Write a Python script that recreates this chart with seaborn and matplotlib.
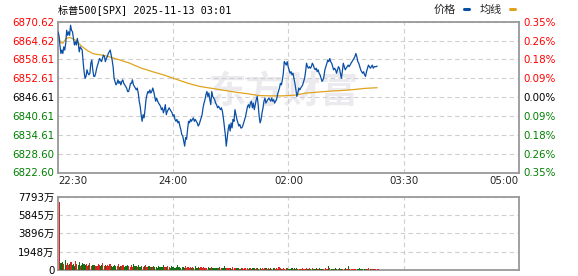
import numpy as np
import pandas as pd
import matplotlib
matplotlib.use("Agg")
import matplotlib.pyplot as plt
import seaborn as sns
from matplotlib.lines import Line2D
from matplotlib.transforms import ScaledTranslation

# ---------------- data ----------------
title = "标普500[SPX] 2025-11-13 03:01"
prev_close = 6846.61
y_low, y_high = 6822.60, 6870.62
price_tick_labels = ["6870.62", "6864.62", "6858.61", "6852.61", "6846.61",
                     "6840.61", "6834.61", "6828.60", "6822.60"]
pct_tick_labels = ["0.35%", "0.26%", "0.18%", "0.09%", "0.00%",
                   "0.09%", "0.18%", "0.26%", "0.35%"]
time_labels = ["22:30", "24:00", "02:00", "03:30", "05:00"]
session_minutes = 390
last_minute = 270

price = [
    # 22:30 - ~23:37
    6867.4, 6866.3, 6863.2, 6860.5, 6861.6, 6860.5, 6862.6, 6861.6, 6863.7, 6867.9,
    6866.3, 6867.4, 6866.3, 6869.5, 6867.9, 6867.4, 6865.3, 6863.2, 6864.2, 6863.2,
    6865.3, 6863.7, 6861.0, 6862.6, 6862.1, 6861.6, 6857.9, 6854.7, 6852.6, 6853.2,
    6855.3, 6854.2, 6853.7, 6854.2, 6857.4, 6858.4, 6855.3, 6853.2, 6853.2, 6854.2,
    6855.8, 6856.8, 6857.9, 6858.9, 6858.4, 6857.9, 6858.9, 6860.0, 6859.5, 6857.9,
    6858.9, 6859.5, 6860.5, 6861.0, 6861.6, 6860.0, 6858.4, 6856.3, 6852.6, 6851.6,
    6850.5, 6851.0, 6852.1, 6851.0, 6851.6, 6850.5, 6851.6, 6852.1, 6851.0, 6850.5,
    6850.0, 6849.5, 6848.4, 6848.4, 6849.5, 6851.0, 6851.0, 6852.1, 6850.5, 6850.0,
    6849.5, 6848.9, 6849.5, 6847.9, 6845.3, 6843.7, 6841.0, 6838.9,
    # ~23:37 - ~00:45
    6841.0, 6840.0, 6842.6, 6845.8, 6847.4, 6848.4, 6847.9, 6848.9, 6847.9, 6848.4,
    6849.5, 6848.4, 6846.8, 6845.3, 6846.3, 6845.3, 6844.7, 6844.2, 6843.7, 6842.6,
    6843.2, 6841.6, 6842.6, 6844.2, 6841.0, 6842.1, 6842.6, 6843.2, 6842.6, 6842.1,
    6841.6, 6840.5, 6841.0, 6839.5, 6838.9, 6839.5, 6838.4, 6838.9, 6837.4, 6836.3,
    6834.7, 6834.2, 6832.6, 6831.0, 6833.7, 6833.2, 6836.3, 6838.9, 6838.4, 6839.5,
    6838.9, 6839.5, 6840.0, 6838.9, 6839.5, 6838.9, 6838.4, 6837.4, 6837.9, 6838.9,
    6840.0, 6841.0, 6843.2, 6844.7, 6845.8, 6847.4, 6848.4, 6846.8, 6847.9, 6845.8,
    6844.2, 6848.4, 6846.8, 6846.3, 6845.8, 6844.7, 6844.2, 6843.2, 6843.7, 6843.2,
    6842.6,
    # ~00:45 - ~01:53
    6843.2, 6842.1, 6840.0, 6837.4, 6834.7, 6831.0, 6833.7, 6836.3, 6837.9, 6835.8,
    6838.4, 6836.8, 6839.5, 6838.9, 6842.6, 6841.0, 6839.5, 6838.4, 6837.4, 6837.9,
    6836.8, 6836.8, 6837.4, 6838.4, 6839.5, 6840.5, 6842.1, 6843.7, 6844.2, 6843.2,
    6844.7, 6845.3, 6843.2, 6844.7, 6842.6, 6844.2, 6845.8, 6846.8, 6844.2, 6840.5,
    6838.4, 6839.5, 6841.6, 6843.2, 6845.3, 6846.3, 6844.7, 6845.3, 6845.8, 6846.3,
    6845.8, 6845.3, 6846.3, 6845.3, 6845.8, 6844.7, 6845.3, 6845.8, 6847.4, 6848.4,
    6849.5, 6851.0, 6850.5, 6852.1, 6854.2, 6857.9, 6857.4, 6856.8, 6857.9, 6856.3,
    6855.3, 6854.2, 6854.7, 6853.7, 6854.2, 6852.6, 6851.0, 6848.9, 6846.8, 6847.9,
    6849.5, 6848.9,
    # ~01:53 - 03:01
    6849.5, 6850.0, 6850.5, 6851.6, 6852.6, 6854.7, 6857.4, 6856.3, 6855.8, 6856.3,
    6855.8, 6856.3, 6857.4, 6856.8, 6855.8, 6855.3, 6855.8, 6854.7, 6855.3, 6854.2,
    6853.7, 6852.6, 6851.6, 6852.1, 6853.2, 6855.3, 6856.3, 6857.4, 6858.4, 6857.9,
    6858.9, 6857.9, 6857.4, 6856.3, 6855.3, 6855.8, 6855.3, 6854.2, 6855.3, 6856.3,
    6855.8, 6854.2, 6852.6, 6854.7, 6857.4, 6856.3, 6855.3, 6855.8, 6856.3, 6856.8,
    6856.3, 6856.8, 6857.4, 6857.9, 6858.4, 6858.9, 6859.5, 6860.5, 6859.5, 6857.9,
    6857.4, 6856.3, 6855.3, 6854.7, 6854.2, 6854.7, 6853.7, 6853.2, 6854.7, 6855.8,
    6856.8, 6856.3, 6855.8, 6856.3, 6856.8, 6855.8, 6856.3, 6856.3, 6856.3, 6856.5,
]

avg_minutes = [0, 2, 4, 7, 10, 15, 20, 25, 30, 40, 50, 60, 70, 80, 90, 100, 110,
               120, 130, 140, 150, 160, 170, 180, 190, 200, 210, 220, 230, 240,
               250, 260, 270]
avg_price = [6866.8, 6864.2, 6863.7, 6865.3, 6865.6, 6864.7, 6862.8, 6861.4, 6860.4,
             6859.8, 6858.7, 6857.5, 6855.9, 6854.7, 6853.6, 6852.3, 6851.0, 6850.0,
             6849.4, 6848.8, 6848.2, 6847.7, 6847.1, 6847.0, 6847.0, 6847.2, 6847.9,
             6848.2, 6848.5, 6848.7, 6849.0, 6849.4, 6849.6]

# volume per minute, in 万
volume = [
    7260, 700, 780, 850, 620, 1060, 560, 720, 480, 600,
    880, 520, 640, 450, 990, 600, 520, 830, 470, 560,
    750, 680, 520, 600, 460, 540, 700, 420, 510, 480,
    560, 380, 460, 620, 500, 420, 480, 700, 390, 560,
    440, 520, 380, 600, 470, 350, 430, 540, 410, 380,
    640, 360, 470, 400, 520, 330, 450, 380, 560, 400,
    350, 480, 320, 600, 420, 380, 340, 500, 360, 310,
    450, 300, 380, 520, 340, 290, 410, 330, 370, 280,
    440, 300, 360, 260, 420, 310, 350, 280, 500, 290,
    330, 270, 380, 300, 250, 410, 280, 340, 260, 320,
    520, 270, 300, 240, 360, 280, 230, 450, 260, 300,
    220, 330, 250, 280, 210, 390, 240, 260, 300, 200,
    270, 230, 350, 210, 250, 190, 280, 220, 240, 330,
    200, 250, 180, 260, 210, 190, 300, 170, 220, 240,
    450, 260, 200, 170, 230, 190, 160, 280, 200, 180,
    220, 170, 250, 160, 190, 210, 150, 240, 170, 200,
    160, 190, 230, 150, 170, 260, 140, 200, 180, 160,
    210, 150, 180, 140, 230, 170, 160, 190, 150, 200,
    140, 170, 210, 130, 180, 160, 350, 200, 150, 130,
    180, 150, 170, 220, 130, 160, 140, 190, 130, 170,
    150, 200, 130, 160, 160, 140, 170, 130, 160, 180,
    130, 150, 170, 120, 200, 140, 160, 130, 170, 120,
    180, 140, 120, 160, 130, 190, 150, 120, 450, 170,
    120, 160, 130, 150, 200, 120, 140, 170, 130, 150,
    120, 140, 180, 130, 160, 450, 150, 140, 130, 140,
    160, 120, 150, 130, 170, 120, 140, 160, 130, 120,
    150, 130, 170, 120, 140, 130, 160, 120, 140, 150,
    130,
]
vol_tick_labels = ["7793万", "5845万", "3896万", "1948万", "0"]
vol_max = 7793

# ---------------- style ----------------
sns.set_style("white")
plt.rcParams["font.family"] = ["DejaVu Sans", "Noto Sans CJK SC"]

BLUE = "#0a4fa6"
ORANGE = "#e0a31c"
RED = "#ff0000"
GREEN = "#008000"
GRID = "#cfcfcf"
BORDER = "#999999"
FS = 7.4

fig = plt.figure(figsize=(5.78, 2.76), dpi=100)
ax = fig.add_axes([0.1003, 0.375, 0.7976, 0.5464])
axv = fig.add_axes([0.1003, 0.0217, 0.7976, 0.2656])

# ---------------- price panel ----------------
t_price = np.linspace(0, last_minute, len(price))
df_price = pd.DataFrame({"t": t_price, "price": price})
df_avg = pd.DataFrame({"t": avg_minutes, "avg": avg_price})

ax.text(0.49, 0.534, "东方财富", transform=ax.transAxes, ha="center", va="center",
        fontsize=27, fontweight="bold", color="#ebebef", zorder=0,
        family=["Noto Sans CJK SC"])

sns.lineplot(data=df_avg, x="t", y="avg", ax=ax, color=ORANGE, linewidth=0.9, zorder=3)
sns.lineplot(data=df_price, x="t", y="price", ax=ax, color=BLUE, linewidth=0.9, zorder=4)

xticks = np.linspace(0, session_minutes, len(time_labels))
ax.set_xlim(0, session_minutes)
ax.set_ylim(y_low, y_high)
yticks = np.linspace(y_high, y_low, len(price_tick_labels))
ax.set_yticks(yticks)
ax.set_yticklabels(price_tick_labels)
ax.set_xticks(xticks)
ax.set_xticklabels(time_labels)
ax.set_xlabel("")
ax.set_ylabel("")

n_half = len(price_tick_labels) // 2
for i, lab in enumerate(ax.get_yticklabels()):
    lab.set_color(RED if i < n_half else ("#000000" if i == n_half else GREEN))
    lab.set_fontsize(FS)

offsets_px = [0, -10, 16, 9, 0]
aligns = ["left", "center", "center", "center", "right"]
for lab, dx, ha in zip(ax.get_xticklabels(), offsets_px, aligns):
    lab.set_ha(ha)
    lab.set_fontsize(FS)
    lab.set_transform(lab.get_transform() + ScaledTranslation(dx / 100, 0, fig.dpi_scale_trans))

ax.tick_params(axis="both", length=0, pad=2.5)
ax.grid(True, color=GRID, linestyle=(0, (4, 3)), linewidth=0.8)
for s in ax.spines.values():
    s.set_color(BORDER)
    s.set_linewidth(1.3)

ax2 = ax.twinx()
ax2.set_ylim(y_low, y_high)
ax2.set_yticks(yticks)
ax2.set_yticklabels(pct_tick_labels)
for i, lab in enumerate(ax2.get_yticklabels()):
    lab.set_color(RED if i < n_half else ("#000000" if i == n_half else GREEN))
    lab.set_fontsize(FS)
ax2.tick_params(axis="y", length=0, pad=3)
for s in ax2.spines.values():
    s.set_visible(False)

# ---------------- volume panel ----------------
vol_minutes = np.arange(1, len(volume) + 1)
px_at = np.interp(np.arange(0, len(volume) + 1), t_price, price)
up = np.diff(px_at) >= 0
up[0] = True
df_vol = pd.DataFrame({"t": vol_minutes, "vol": volume,
                       "dir": np.where(up, "up", "down")})
sns.barplot(data=df_vol, x="t", y="vol", hue="dir", palette={"up": RED, "down": GREEN},
            native_scale=True, dodge=False, width=0.9, linewidth=0, legend=False,
            ax=axv, zorder=3)
axv.set_xlim(0, session_minutes)
axv.set_ylim(0, vol_max)
axv.set_xticks(xticks)
axv.set_xticklabels([])
vt = np.linspace(vol_max, 0, len(vol_tick_labels))
axv.set_yticks(vt)
axv.set_yticklabels(vol_tick_labels)
for lab in axv.get_yticklabels():
    lab.set_fontsize(FS)
    lab.set_color("#000000")
axv.set_xlabel("")
axv.set_ylabel("")
axv.tick_params(axis="both", length=0, pad=2.5)
axv.grid(True, color=GRID, linestyle=(0, (4, 3)), linewidth=0.8)
axv.set_axisbelow(True)
for s in axv.spines.values():
    s.set_color(BORDER)
    s.set_linewidth(1.3)

# ---------------- title & legend ----------------
fig.text(0.1003, 1 - 10 / 276, title, ha="left", va="center", fontsize=7.3,
         family=["DejaVu Sans Mono", "Noto Sans CJK SC"], color="#000000")

handles = [Line2D([], [], color=BLUE, lw=2.2), Line2D([], [], color=ORANGE, lw=2.2)]
fig.legend(handles, ["价格", "均线"], loc="center right",
           bbox_to_anchor=(515 / 578, 1 - 9.5 / 276), ncol=2, frameon=False,
           markerfirst=False, handlelength=0.45, handletextpad=0.7,
           columnspacing=1.0, borderpad=0, borderaxespad=0,
           prop={"family": ["Noto Sans CJK SC"], "size": 8})

fig.savefig("out.png", dpi=100)
